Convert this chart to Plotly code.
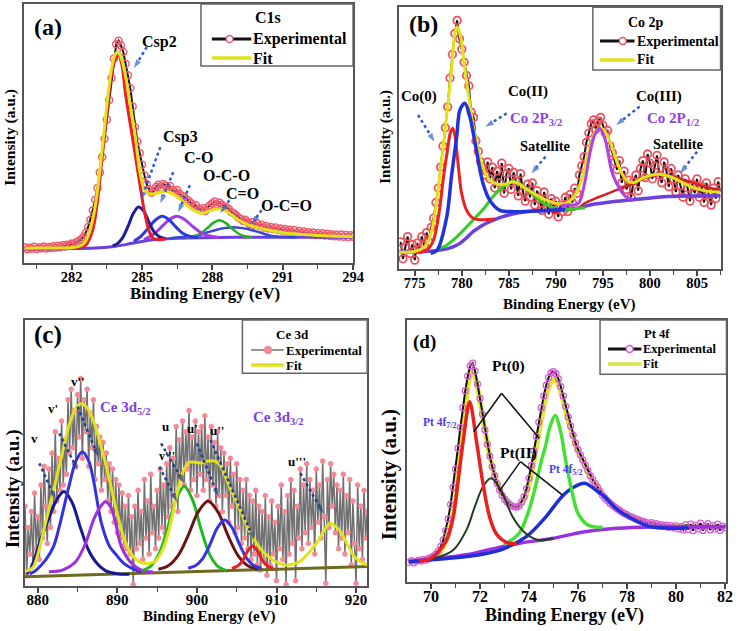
import numpy as np
import plotly.graph_objects as go

W, H = 748, 631
FONT = "Liberation Serif"

# ===================== (a) C1s =====================
a_exp_range = (280.0, 294.0)
a_exp_y = [6.2, 5.4, 6.0, 5.6, 6.4, 5.5, 6.1, 5.8, 6.5, 5.7,
           6.3, 5.9, 6.6, 6.0, 6.8, 6.2, 7.0, 6.5, 7.2, 7.0,
           7.6, 7.4, 8.2, 8.6, 9.2, 10.2, 11.8, 14.0, 16.8, 20.5,
           24.5, 29.0, 35.0, 41.0, 48.0, 55.5, 63.0, 71.5, 79.0, 84.5,
           85.8, 84.0, 81.5, 77.0, 72.5, 67.5, 60.5, 52.5, 47.0, 42.5,
           38.0, 34.0, 30.5, 28.5, 27.2, 28.0, 29.5, 30.3, 29.2, 30.6,
           30.0, 29.0, 29.8, 28.2, 27.6, 28.3, 26.8, 26.0, 25.6, 24.6,
           24.0, 23.2, 21.8, 22.4, 21.0, 20.6, 21.2, 20.2, 21.6, 22.4,
           23.2, 23.8, 22.8, 23.4, 22.6, 22.0, 21.4, 21.0, 19.8, 19.4,
           18.6, 17.8, 17.2, 16.4, 16.8, 15.8, 15.2, 15.8, 14.8, 15.4,
           14.4, 14.9, 13.8, 14.4, 13.4, 14.0, 13.2, 13.8, 12.8, 13.4,
           12.6, 13.2, 12.4, 12.9, 12.0, 12.8, 11.8, 12.5, 11.6, 12.3,
           11.4, 12.0, 11.2, 11.9, 11.0, 11.7, 10.9, 11.6, 10.7, 11.4,
           10.6, 11.2, 10.4, 11.0, 10.3, 11.1, 10.2, 10.9, 10.1, 10.8,
           10.2]
a_fit_x = [280, 281, 282, 282.3, 282.5, 282.7, 282.9, 283.1, 283.3, 283.5, 283.7, 283.85,
           283.96, 284.1, 284.3, 284.5, 284.7, 284.9, 285.1, 285.3, 285.5, 285.75, 286.0,
           286.3, 286.7, 287.1, 287.5, 287.9, 288.3, 288.7, 289.1, 289.6, 290.2, 291, 292,
           293, 294]
a_fit_y = [5.8, 5.9, 6.0, 6.5, 7.5, 10.5, 17, 28, 44, 61, 75, 80.5,
           81.6, 79.5, 72, 61, 50, 35.5, 28.5, 26.8, 26.8, 27.3, 27.8,
           26.8, 24.2, 21, 19.3, 20.3, 21, 19.5, 16.8, 14.6, 13.2, 11.8, 11,
           10.5, 10.2]
a_csp2_x = [281.5, 282.0, 282.3, 282.6, 282.9, 283.1, 283.3, 283.5, 283.7, 283.85, 284.0,
            284.15, 284.3, 284.6, 284.9, 285.1, 285.3, 285.5, 285.7, 286.0]
a_csp2_y = [5.7, 5.8, 6.0, 7.0, 13.0, 24, 41, 58, 73, 78.5, 80.3,
            76, 65, 48, 31, 20, 12.5, 9.5, 9.2, 9.4]
a_csp3_x = [283.75, 283.95, 284.175, 284.4, 284.625, 284.85, 285.075, 285.3, 285.525, 285.75, 286.0]
a_csp3_y = [6.8, 7.6, 9.9, 14.2, 19.2, 21.7, 20.1, 15.8, 12.0, 10.2, 9.5]
a_co_x = [284.65, 284.95, 285.25, 285.55, 285.85, 286.15, 286.45, 286.75, 287.05, 287.4]
a_co_y = [8.5, 10.4, 13.35, 16.5, 18.1, 16.8, 13.95, 11.5, 10.35, 9.9]
a_oco_x = [285.08, 285.43, 285.78, 286.13, 286.48, 286.83, 287.18, 287.53, 287.88, 288.3]
a_oco_y = [9.1, 10.8, 13.55, 16.6, 18.1, 16.8, 14.05, 11.7, 10.5, 10.0]
a_c2o_x = [286.9, 287.2, 287.475, 287.75, 288.025, 288.3, 288.575, 288.85, 289.125, 289.4, 289.7]
a_c2o_y = [10.05, 10.4, 11.4, 13.3, 15.5, 16.6, 15.5, 13.3, 11.4, 10.4, 10.05]
a_oc2o_x = [286.2, 286.7, 287.25, 287.8, 288.35, 288.9, 289.45, 290.0, 290.55, 291.1, 291.6]
a_oc2o_y = [9.6, 10.1, 10.5, 11.95, 13.3, 13.9, 13.3, 11.95, 10.5, 10.1, 10.0]
a_base_x = [280, 283, 283.8, 284.3, 284.8, 285.3, 285.8, 286.5, 287.5, 289, 294]
a_base_y = [5.6, 5.9, 6.5, 7.2, 8.1, 8.9, 9.4, 9.7, 9.9, 10.0, 10.0]

# ===================== (b) Co 2p =====================
b_exp_range = (773.5, 807.5)
b_exp_y = [10.5, 4.0, 8.5, 12.5, 6.0, 9.5, 3.5, 10.0, 7.5, 12.5,
           9.0, 14.0, 10.5, 16.0, 19.5, 25.5, 31.0, 39.0, 47.0, 54.0,
           62.0, 73.0, 82.0, 90.0, 95.0, 88.0, 84.0, 79.0, 74.0, 70.0,
           60.0, 58.0, 49.0, 45.0, 41.0, 38.0, 36.0, 41.0, 34.5, 39.0,
           31.0, 37.5, 33.0, 40.5, 29.0, 36.5, 38.5, 30.5, 37.0, 33.5,
           28.0, 36.5, 29.5, 26.0, 32.5, 27.5, 33.0, 24.5, 30.0, 27.0,
           22.5, 29.5, 25.5, 21.0, 27.0, 23.5, 26.0, 20.0, 24.5, 22.0,
           27.5, 22.0, 28.5, 25.5, 31.0, 29.0, 36.0, 39.5, 43.0, 48.5,
           52.0, 55.5, 57.0, 53.5, 56.5, 58.0, 55.0, 52.0, 53.0, 47.0,
           44.5, 41.0, 38.0, 41.5, 33.0, 37.5, 30.5, 34.0, 27.5, 33.5,
           36.0, 30.0, 38.5, 41.5, 35.0, 44.0, 40.5, 34.5, 39.5, 43.5,
           36.0, 33.0, 41.0, 37.5, 31.5, 38.5, 34.5, 29.5, 36.0, 32.0,
           27.5, 34.5, 31.0, 26.0, 32.5, 29.0, 34.5, 27.5, 31.5, 25.5,
           33.0, 28.5, 24.5, 31.0, 27.0, 33.5, 29.5]
b_fit_x = [773.3, 775, 776, 776.5, 777, 777.5, 778, 778.5, 779.0, 779.3, 779.5, 779.8,
           780.2, 780.5, 780.9, 781.2, 781.6, 781.9, 782.3, 782.6, 783.2, 784, 784.7,
           785.4, 786.1, 786.8, 787.8, 788.9, 789.8, 790.5, 791.1, 791.7, 792.3, 792.8,
           793.3, 793.8, 794.3, 794.7, 795.1, 795.6, 796.1, 796.6, 797.1, 797.7, 798.4,
           799.1, 800, 800.9, 801.7, 802.6, 803.5, 804.3, 805.2, 806.1, 807.5]
b_fit_y = [6.5, 6.8, 8.5, 11, 18, 31, 46, 62, 80, 91, 92.6, 90,
           80, 72, 62, 55, 48, 43, 38.5, 35.8, 33.5, 32.3, 32.6,
           33.4, 32.6, 30.8, 28.6, 26.5, 25.4, 24.9, 25.3, 26.8, 30, 35,
           42, 49, 53.2, 54, 53.2, 50, 45, 40, 36, 33.5, 33.2,
           34.6, 35.8, 36.3, 35.8, 34.7, 33, 31.6, 30.5, 29.8, 29.4]
b_co0_x = [775, 776.3, 777.0, 777.6, 778.06, 778.5, 778.77, 779.04, 779.3, 779.46, 779.7,
           779.98, 780.5, 781.2, 782, 783.5]
b_co0_y = [6.6, 7.4, 11.2, 22, 35.3, 46, 51.9, 53.8, 50.5, 45.5, 37,
           29, 22.6, 19.5, 18.9, 19.2]
b_co2_x = [776.7, 777.4, 778.4, 778.9, 779.46, 779.8, 780.33, 780.86, 781.55, 782.25,
           782.95, 784.0, 785.7, 788, 791]
b_co2_y = [6.1, 7.4, 20, 35.3, 50.6, 60.8, 63.4, 58.2, 45.5, 32.8,
           26.5, 22.6, 22.0, 22.3, 22.8]
b_sat1_x = [777.4, 778.1, 779.5, 781.2, 782.3, 783.3, 784.4, 785.4, 786.1, 786.8, 787.6,
            788.5, 789.6, 790.6, 791.7, 793.1]
b_sat1_y = [8.0, 8.6, 12.5, 18.8, 23, 27.7, 31.5, 33.4, 32.8, 30.8, 28.5,
            25.8, 23.7, 22.6, 23.0, 23.5]
b_co3_x = [790.5, 791.3, 792.4, 793.05, 793.6, 794.1, 794.62, 795.2, 796.0, 796.9, 797.5, 798.2]
b_co3_y = [24.2, 24.5, 25.2, 32.8, 44, 51, 53.8, 50, 36.6, 30, 27.5, 26.6]
b_sat2_x = [789.6, 791, 792.4, 793.05, 794.5, 796.5, 798.3, 799.5, 801.1, 802.5, 804.2,
            805.8, 807.5]
b_sat2_y = [21.4, 22.6, 23.3, 25.2, 27.5, 30.3, 32.8, 34.8, 36, 35.2, 33.4,
            31.5, 30.3]
b_base_x = [773.3, 776, 778, 779, 779.8, 780.5, 781.2, 782, 782.6, 783.5, 784.3, 785.5,
            786.8, 788.5, 790.3, 792, 794, 796, 798, 801.5, 804, 807.5]
b_base_y = [6.6, 6.8, 7.5, 8.5, 9.9, 12, 14.4, 16.3, 17.6, 19, 20, 21.2,
            22, 22.3, 22.6, 23.2, 24.8, 25.8, 26.5, 27.7, 28, 28.1]

# ===================== (c) Ce 3d =====================
c_exp_range = (878.4, 921.4)
c_exp_y = [30, 4, 22, 12, 28, 8, 35, 14, 26, 10, 38, 18, 45,
           30, 16, 44, 22, 50, 28, 58, 32, 48, 36,
           62, 38, 55, 42, 70, 50, 74, 52, 66, 45,
           72, 56, 78, 48, 70, 58, 74, 45, 65, 52,
           70, 40, 60, 46, 56, 36, 54, 40, 50, 32,
           46, 28, 44, 24, 40, 20, 38, 18, 35, 15,
           30, 14, 34, 12, 26, 0.5, 30, 14, 36, 16,
           28, 10, 40, 18, 32, 12, 42, 20, 30, 14,
           36, 18, 44, 22, 38, 20, 46, 26, 52, 30,
           48, 34, 60, 28, 55, 40, 62, 38, 58, 44,
           66, 36, 56, 40, 62, 34, 58, 42, 60, 36,
           64, 40, 56, 32, 60, 38, 54, 30, 58, 34,
           52, 28, 50, 34, 46, 24, 48, 30, 42, 20,
           46, 22, 40, 16, 36, 18, 40, 14, 34, 10,
           32, 12, 36, 8, 30, 6, 28, 10, 34, 4,
           26, 8, 32, 12, 24, 2, 30, 14, 38, 10,
           28, 0.5, 34, 12, 40, 16, 36, 2, 30, 18,
           44, 14, 38, 20, 46, 16, 40, 22, 36, 12,
           44, 24, 38, 18, 47, 26, 1, 40, 22, 46,
           30, 42, 20, 38, 14, 36, 18, 42, 12, 34,
           20, 40, 8, 32, 16, 1, 38, 14, 30, 10,
           36, 18, 28]
c_fit_x = [878.5, 879.4, 880.2, 881.0, 882.0, 883.0, 884.0, 884.8, 885.5, 886.2, 887.0,
           888.0, 889.0, 890.0, 891.0, 892.0, 893.0, 894.0, 894.8, 895.6, 896.5, 897.3,
           898.2, 899.0, 899.8, 900.6, 901.4, 902.2, 902.9, 904.1, 905.4, 906.2, 907.0,
           908.0, 909.0, 910.0, 911.2, 912.2, 913.2, 914.2, 915.3, 916.0, 916.7, 917.4,
           918.2, 919.0, 919.8, 920.6, 921.4]
c_fit_y = [5.5, 7, 14, 24, 36, 49, 61, 67, 68.5, 67, 62,
           52, 40, 27, 16.5, 11, 8.8, 8.5, 9.5, 13, 21, 32,
           42.5, 46.5, 46.5, 46.2, 47, 47, 45.5, 37.3, 28.6, 23, 18.5,
           14, 11, 9, 7.9, 8.3, 9.8, 13, 17.3, 21, 23.6, 22.5,
           19.8, 15, 11, 9, 7.9]
c_v_x = [878.6, 879.2, 880.2, 881.4, 882.3, 883.3, 884.3, 885.3, 886.3, 887.3, 888.5, 890, 891.5]
c_v_y = [4.5, 7, 16, 25.5, 32, 35.5, 31.5, 22.5, 14, 9, 5.8, 4.6, 4.4]
c_v1_x = [879.0, 879.8, 881.0, 882.0, 882.7, 883.9, 884.8, 885.6, 886.4, 887.0, 888.0, 889.0,
          889.7, 890.8, 891.8, 893.0]
c_v1_y = [4.5, 6, 9.8, 15, 22.3, 37.3, 47, 50.5, 47, 39.8, 23.6, 15,
          12.3, 8.5, 6.7, 5.2]
c_v2_x = [881.4, 883.1, 884.75, 886.0, 887.0, 887.8, 888.5, 889.2, 889.7, 890.5, 891.8, 893.0, 894.5]
c_v2_y = [5.4, 6, 9.1, 16, 24.8, 29.5, 31.7, 29.5, 24.8, 14.8, 8.5, 6, 5.3]
c_u_x = [893.15, 894.2, 895.25, 896.3, 897.35, 898.4, 899.45, 900.5, 901.55, 902.6, 903.65]
c_u_y = [5.9, 7.5, 12.2, 21.5, 32.4, 37.5, 32.4, 21.5, 12.2, 7.5, 5.9]
c_u1_x = [895.15, 896.4, 897.65, 898.9, 900.15, 901.4, 902.65, 903.9, 905.15, 906.4, 907.65]
c_u1_y = [6.3, 7.6, 11.5, 19, 27.8, 32, 27.8, 19, 11.5, 7.6, 6.3]
c_u2_x = [898.9, 899.8, 900.725, 901.65, 902.575, 903.5, 904.425, 905.35, 906.275, 907.2, 908.1]
c_u2_y = [6.7, 7.6, 10.3, 15.65, 21.9, 24.8, 21.9, 15.65, 10.3, 7.6, 6.7]
c_v3_x = [904.4, 905.1, 905.7, 906.35, 907.0, 907.65, 908.3, 908.9, 909.6]
c_v3_y = [6.6, 7.5, 9.3, 13, 15, 13, 9.3, 7.5, 6.7]
c_base_x = [878.4, 921.4]
c_base_y = [3.5, 7.3]

# ===================== (d) Pt 4f =====================
d_exp_range = (69.1, 82.0)
d_exp_y = [7.4, 8.0, 7.2, 7.8, 8.2, 7.9, 8.5, 8.3, 8.9, 9.2,
           9.8, 10.5, 11.8, 13.5, 16.0, 19.5, 24.0, 29.5, 36.0, 43.0,
           51.0, 59.0, 66.5, 73.0, 78.5, 82.5, 83.5, 80.5, 75.5, 70.0,
           64.0, 58.0, 52.5, 48.0, 44.0, 40.5, 37.5, 35.0, 33.0, 31.5,
           30.5, 29.6, 29.0, 28.6, 28.5, 29.0, 30.5, 32.5, 35.5, 39.5,
           44.5, 50.0, 55.5, 61.0, 66.5, 71.0, 75.0, 78.0, 79.8, 80.3,
           79.5, 77.5, 74.5, 71.0, 67.0, 63.0, 59.5, 56.0, 53.0, 50.5,
           48.5, 46.5, 44.5, 42.5, 40.5, 39.0, 37.5, 36.0, 34.5, 33.0,
           32.0, 31.0, 30.0, 29.3, 28.5, 27.8, 27.2, 26.6, 26.0, 25.6,
           25.0, 24.7, 24.2, 23.9, 23.5, 23.2, 22.9, 22.6, 22.3, 22.6,
           21.9, 22.2, 21.5, 21.8, 21.2, 21.6, 20.8, 21.4, 20.6, 21.3,
           20.2, 21.0, 19.8, 21.8, 20.0, 22.0, 19.5, 21.5, 20.2, 22.4,
           19.6, 21.0, 22.2, 19.8, 21.4, 20.2, 22.0, 19.6, 21.2, 20.6]
d_fit_x = [69.1, 70.0, 70.4, 70.7, 71.0, 71.2, 71.4, 71.55, 71.65, 71.8, 72.0, 72.2, 72.4,
           72.7, 73.0, 73.3, 73.55, 73.8, 74.05, 74.3, 74.55, 74.8, 75.0, 75.2, 75.45,
           75.7, 76.0, 76.3, 76.7, 77.2, 77.7, 78.2, 78.8, 79.5, 80.5, 82]
d_fit_y = [7.6, 8.6, 11.5, 18, 32, 49, 66, 77, 80.5, 78, 69, 58, 48,
           38, 32, 29, 28.5, 31, 39, 51, 64, 74, 77.5, 75, 67,
           58, 50, 44, 37.5, 31.5, 27.5, 24.8, 22.6, 21.5, 21, 20.9]
d_pt0a_x = [69.5, 69.9, 70.24, 70.64, 70.91, 71.11, 71.32, 71.58, 71.85, 72.12, 72.39,
            72.65, 72.92, 73.19, 73.5]
d_pt0a_y = [7.9, 8.5, 10.9, 15.9, 24.8, 38.9, 54.1, 68.8, 54.1, 37.6, 24.8,
            18.5, 15.9, 14.7, 14.5]
d_pt2a_x = [69.6, 70.24, 70.91, 71.45, 71.79, 72.12, 72.45, 72.92, 73.33, 73.86, 74.4, 75.0]
d_pt2a_y = [8.2, 9.2, 12.1, 19.8, 28.7, 36.3, 39.5, 33.8, 24.8, 18.5, 15.9, 16.6]
d_pt0b_x = [73.0, 73.6, 74.0, 74.26, 74.5, 74.67, 74.85, 75.07, 75.3, 75.47, 75.74, 76.0,
            76.4, 77.0]
d_pt0b_y = [14.2, 18.5, 27.4, 36.3, 46, 51.6, 59, 63.5, 57, 47.8, 35, 26.1,
            21.7, 20.8]
d_pt2b_x = [69.1, 70.13, 71.47, 72.82, 73.89, 74.69, 75.34, 75.8, 76.28, 76.8, 77.08,
            77.62, 78.29, 78.96, 79.76, 80.5]
d_pt2b_y = [7.6, 8.5, 9.6, 12.1, 17.2, 24.8, 32.5, 36, 37.6, 34.5, 32.5,
            27.4, 23.6, 21, 20.4, 20.6]
d_base_x = [69.1, 70.24, 71.58, 72.5, 73.6, 74.93, 76.28, 77.6, 79, 82]
d_base_y = [7.6, 8.9, 10.5, 12.5, 14.7, 16.5, 19.1, 20.4, 20.9, 21]

# ===================== figure =====================
fig = go.Figure()

panels = {
    "a": dict(n="", box=(24, 358.3, 4, 263.3), xr=[279.95, 294.0], t0=282, dt=3, mdt=1.5, tfs=14.5),
    "b": dict(n="2", box=(404.7, 731.3, 7.3, 269.3), xr=[773.3, 807.5], t0=775, dt=5, mdt=2.5, tfs=14.5),
    "c": dict(n="3", box=(25, 372.7, 320, 586), xr=[878.35, 921.4], t0=880, dt=10, mdt=5, tfs=15),
    "d": dict(n="4", box=(413.3, 737.3, 320, 581.7), xr=[69.03, 82.06], t0=70, dt=2, mdt=1, tfs=16),
}

for k, p in panels.items():
    n = p["n"]
    x0, x1, y0, y1 = p["box"]
    fig.update_layout(**{
        f"xaxis{n}": dict(domain=[x0 / W, x1 / W], range=p["xr"], anchor=f"y{n}",
                          tickmode="linear", tick0=p["t0"], dtick=p["dt"],
                          ticks="outside", ticklen=5, tickwidth=1.5, tickcolor="#444",
                          ticklabelstandoff=-6,
                          showline=True, linecolor="#555", linewidth=2, mirror=True,
                          showgrid=False, zeroline=False,
                          tickfont=dict(family=FONT, size=p["tfs"], color="black", weight="bold"),
                          minor=dict(tick0=p["t0"], dtick=p["mdt"], ticks="outside", ticklen=4,
                                     tickcolor="#444", tickwidth=1.2, showgrid=False)),
        f"yaxis{n}": dict(domain=[1 - y1 / H, 1 - y0 / H], range=[0, 100], anchor=f"x{n}",
                          showticklabels=False, ticks="", showline=True, linecolor="#555",
                          linewidth=2, mirror=True, showgrid=False, zeroline=False),
    })


def ax(n):
    return ("x" + n, "y" + n)


def curve(n, xs, ys, color, width, smooth=0.9):
    xa, ya = ax(n)
    fig.add_trace(go.Scatter(x=xs, y=ys, xaxis=xa, yaxis=ya, mode="lines",
                             line=dict(color=color, width=width, shape="spline", smoothing=smooth),
                             showlegend=False, hoverinfo="skip"))


def exp_trace(n, rng, ys, lcolor, lwidth, mcolor, msize, symbol, mlw=1.5):
    xa, ya = ax(n)
    xs = np.linspace(rng[0], rng[1], len(ys))
    fig.add_trace(go.Scatter(x=xs, y=ys, xaxis=xa, yaxis=ya, mode="lines+markers",
                             line=dict(color=lcolor, width=lwidth),
                             marker=dict(symbol=symbol, size=msize, color=mcolor,
                                         line=dict(width=mlw, color=mcolor)),
                             name="Experimental", showlegend=False, hoverinfo="skip"))


# ---- (a)
exp_trace("", a_exp_range, a_exp_y, "#111", 2, "#f25a6e", 7, "circle-open", 1.5)
curve("", a_base_x, a_base_y, "#6a3fe0", 3)
curve("", a_oc2o_x, a_oc2o_y, "#3a48d8", 2.5)
curve("", a_c2o_x, a_c2o_y, "#22b022", 2.5)
curve("", a_oco_x, a_oco_y, "#a23be6", 3)
curve("", a_co_x, a_co_y, "#2e3bd6", 3)
curve("", a_csp3_x, a_csp3_y, "#1d1d9e", 3)
curve("", a_csp2_x, a_csp2_y, "#ee1d23", 3)
curve("", a_fit_x, a_fit_y, "#e2e21a", 3)

# ---- (b)
exp_trace("2", b_exp_range, b_exp_y, "#111", 2, "#f0505e", 7.5, "circle-open", 1.8)
curve("2", b_base_x, b_base_y, "#6b40e0", 3.5)
curve("2", b_sat2_x, b_sat2_y, "#d42020", 2.5)
curve("2", b_sat1_x, b_sat1_y, "#33cc22", 3)
curve("2", b_co0_x, b_co0_y, "#ee2020", 3)
curve("2", b_fit_x, b_fit_y, "#e2e21a", 3)
curve("2", b_co2_x, b_co2_y, "#2233dd", 3.5)
curve("2", b_co3_x, b_co3_y, "#b040e8", 3)

# ---- (c)
exp_trace("3", c_exp_range, c_exp_y, "#707070", 1.5, "#f48a96", 5, "circle", 0.5)
curve("3", c_base_x, c_base_y, "#6e6a1e", 3)
curve("3", c_v_x, c_v_y, "#1a1a90", 3)
curve("3", c_v1_x, c_v1_y, "#3232e0", 3)
curve("3", c_v2_x, c_v2_y, "#a030d8", 3)
curve("3", c_u_x, c_u_y, "#22b822", 3)
curve("3", c_u1_x, c_u1_y, "#6a1414", 3)
curve("3", c_u2_x, c_u2_y, "#3535e0", 3)
curve("3", c_v3_x, c_v3_y, "#e62020", 3)
curve("3", c_fit_x, c_fit_y, "#e2e21a", 3)

# ---- (d)
curve("4", d_fit_x, d_fit_y, "#e4e43a", 5)
exp_trace("4", d_exp_range, d_exp_y, "#111", 2, "#d85fd8", 6, "circle-open", 1.3)
curve("4", d_base_x, d_base_y, "#9a30e0", 3.5)
curve("4", d_pt2b_x, d_pt2b_y, "#1f2fd8", 3.5)
curve("4", d_pt0b_x, d_pt0b_y, "#44e033", 3.5)
curve("4", d_pt2a_x, d_pt2a_y, "#1f3f1f", 2)
curve("4", d_pt0a_x, d_pt0a_y, "#e82020", 3.5)

# ===================== annotations & shapes =====================
annotations = []
shapes = []


def label(n, x, y, text, size, color="black"):
    xa, ya = ax(n)
    annotations.append(dict(x=x, y=y, xref=xa, yref=ya, text=text, showarrow=False,
                            xanchor="center", yanchor="middle",
                            font=dict(family=FONT, size=size, color=color, weight="bold")))


def dotted_arrow(n, start, end, color="#2c5ccc"):
    xa, ya = ax(n)
    fig.add_trace(go.Scatter(x=[start[0], end[0]], y=[start[1], end[1]], xaxis=xa, yaxis=ya,
                             mode="lines+markers",
                             line=dict(color=color, width=2.5, dash="dot"),
                             marker=dict(symbol="arrow", size=[0, 9], color=color,
                                         angleref="previous", line=dict(width=0)),
                             showlegend=False, hoverinfo="skip"))


def page_text(px, py, text, size, angle=0, color="black"):
    annotations.append(dict(x=px / W, y=1 - py / H, xref="paper", yref="paper", text=text,
                            showarrow=False, textangle=angle, xanchor="center", yanchor="middle",
                            font=dict(family=FONT, size=size, color=color, weight="bold")))


# panel labels
label("", 281.0, 91.1, "(a)", 24)
label("2", 775.9, 93.6, "(b)", 24)
label("3", 881.3, 94.4, "(c)", 25)
label("4", 69.73, 91.7, "(d)", 19)

# (a) labels
label("", 285.75, 85.3, "Csp2", 16)
label("", 286.62, 48.6, "Csp3", 16)
label("", 287.42, 40.9, "C-O", 16)
label("", 288.6, 34.0, "O-C-O", 16)
label("", 289.27, 27.0, "C=O", 16)
label("", 291.16, 22.4, "O-C=O", 16)
dotted_arrow("", (285.2, 83.4), (284.66, 75.3))
dotted_arrow("", (285.78, 44.8), (284.95, 24.3))
dotted_arrow("", (286.33, 35.1), (285.78, 23.2))
dotted_arrow("", (287.04, 30.1), (286.54, 19.7))
dotted_arrow("", (288.72, 24.3), (288.34, 19.3))
dotted_arrow("", (290.1, 20.5), (289.68, 15.1))

# (b) labels
label("2", 775.5, 66.1, "Co(0)", 15)
label("2", 787.0, 67.8, "Co(II)", 15)
label("2", 787.9, 57.4, "Co 2P<sub>3/2</sub>", 15, "#9040e8")
label("2", 788.8, 47.2, "Satellite", 14.5)
label("2", 801.0, 65.9, "Co(III)", 15)
label("2", 802.4, 57.4, "Co 2P<sub>1/2</sub>", 15, "#9040e8")
label("2", 803.0, 47.8, "Satellite", 14.5)
dotted_arrow("2", (775.35, 58.9), (777.1, 48.7))
dotted_arrow("2", (784.76, 59.5), (782.5, 54.4))
dotted_arrow("2", (788.9, 43.0), (787.4, 36.6))
dotted_arrow("2", (798.9, 62.1), (796.4, 55.1))
dotted_arrow("2", (805.0, 44.9), (803.2, 36.6))

# (c) labels
label("3", 879.6, 55.5, "v", 13)
label("3", 881.9, 66.8, "v'", 13)
label("3", 885.0, 76.8, "v''", 13)
label("3", 891.0, 66.8, "Ce 3d<sub>5/2</sub>", 15, "#7a40e8")
label("3", 896.1, 59.9, "u", 13)
label("3", 899.4, 59.3, "u'", 13)
label("3", 902.5, 58.6, "u''", 13)
label("3", 896.3, 48.9, "v'''", 12)
label("3", 910.3, 63.0, "Ce 3d<sub>3/2</sub>", 15, "#7a40e8")
label("3", 912.6, 46.7, "u'''", 13)
dotted_arrow("3", (880.2, 46.1), (882.3, 32.3), "#23408f")
dotted_arrow("3", (882.7, 57.4), (885.0, 43.6), "#23408f")
dotted_arrow("3", (885.0, 67.4), (887.6, 48.6), "#23408f")
dotted_arrow("3", (895.5, 53.6), (898.4, 38.6), "#23408f")
dotted_arrow("3", (895.3, 44.8), (897.5, 31.7), "#23408f")
dotted_arrow("3", (900.0, 53.6), (902.7, 33.6), "#23408f")
dotted_arrow("3", (901.7, 54.9), (907.2, 17.3), "#23408f")
dotted_arrow("3", (913.0, 42.4), (915.9, 27.3), "#23408f")

# (d) labels
label("4", 73.15, 82.5, "Pt(0)", 15.5)
label("4", 73.56, 49.3, "Pt(II)", 15.5)
label("4", 70.38, 60.5, "Pt 4f<sub>7/2</sub>", 11.5, "#4a3cf0")
label("4", 75.53, 42.7, "Pt 4f<sub>5/2</sub>", 11.5, "#4a3cf0")
for pts in [[(71.75, 57.3), (72.88, 72.0), (74.42, 54.8)],
            [(72.82, 35.0), (73.65, 45.9), (75.37, 33.1)]]:
    for (xa0, ya0), (xa1, ya1) in zip(pts[:-1], pts[1:]):
        shapes.append(dict(type="line", xref="x4", yref="y4", x0=xa0, y0=ya0, x1=xa1, y1=ya1,
                           line=dict(color="#111", width=1.5)))

# axis titles
page_text(208, 293.5, "Binding Energy (eV)", 17)
page_text(578, 304, "Binding Energy (eV)", 15)
page_text(213, 616.5, "Binding Energy (eV)", 15)
page_text(573, 615, "Binding Energy (eV)", 18)
page_text(10, 137, "Intensity (a.u.)", 15.5, -90)
page_text(390.5, 137, "Intensity (a.u.)", 15, -90)
page_text(13.5, 489, "Intensity (a.u.)", 19, -90)
page_text(395, 475, "Intensity (a.u.)", 21, -90)


# legends (drawn as boxes with sample lines)
def legend_box(x0, x1, y0, y1, title, title_x, title_y, rows, fs, line_x0, line_x1, text_x):
    shapes.append(dict(type="rect", xref="paper", yref="paper", x0=x0 / W, x1=x1 / W,
                       y0=1 - y1 / H, y1=1 - y0 / H, line=dict(color="#666", width=1.5),
                       fillcolor="white", layer="above"))
    page_text(title_x, title_y, title, fs)
    for (ry, lcol, lw, mk, mcol, mfill, name) in rows:
        shapes.append(dict(type="line", xref="paper", yref="paper", x0=line_x0 / W, x1=line_x1 / W,
                           y0=1 - ry / H, y1=1 - ry / H, line=dict(color=lcol, width=lw), layer="above"))
        if mk is not None:
            r = 3.5
            shapes.append(dict(type="circle", xref="paper", yref="paper",
                               x0=(mk - r) / W, x1=(mk + r) / W, y0=1 - (ry + r) / H, y1=1 - (ry - r) / H,
                               line=dict(color=mcol, width=1.5), fillcolor=mfill, layer="above"))
        annotations.append(dict(x=text_x / W, y=1 - ry / H, xref="paper", yref="paper", text=name,
                                showarrow=False, xanchor="left", yanchor="middle",
                                font=dict(family=FONT, size=fs, color="black", weight="bold")))


legend_box(204, 358.3, 4, 66, "C1s", 272, 18,
           [(39, "#111", 3, 233, "#f25a6e", "white", "Experimental"),
            (58, "#e2e21a", 3.5, None, None, None, "Fit")], 16, 215, 255, 255)
legend_box(601.7, 731.3, 7.3, 70, "Co 2p", 656, 22,
           [(41, "#111", 3, 632, "#f0505e", "white", "Experimental"),
            (60, "#e2e21a", 3.5, None, None, None, "Fit")], 14, 609, 644, 644)
legend_box(246, 372.7, 320, 373.3, "Ce 3d", 297, 334.5,
           [(350, "#707070", 1.5, 272, "#f48a96", "#f48a96", "Experimental"),
            (365, "#e2e21a", 3.5, None, None, None, "Fit")], 13, 255, 288, 288)
legend_box(609, 737.3, 320, 374.3, "Pt 4f", 667, 333.5,
           [(349, "#111", 3, 639, "#d85fd8", "white", "Experimental"),
            (364, "#d4e84a", 3.5, None, None, None, "Fit")], 12.5, 617, 651, 651)

fig.update_layout(annotations=annotations, shapes=shapes,
                  width=W, height=H, autosize=False,
                  margin=dict(l=0, r=0, t=0, b=0),
                  paper_bgcolor="white", plot_bgcolor="white",
                  showlegend=False,
                  font=dict(family=FONT, color="black"))

fig.write_html("out.html", config={"displayModeBar": False},
               post_script="document.body.style.margin='0px';document.body.style.overflow='hidden';")
